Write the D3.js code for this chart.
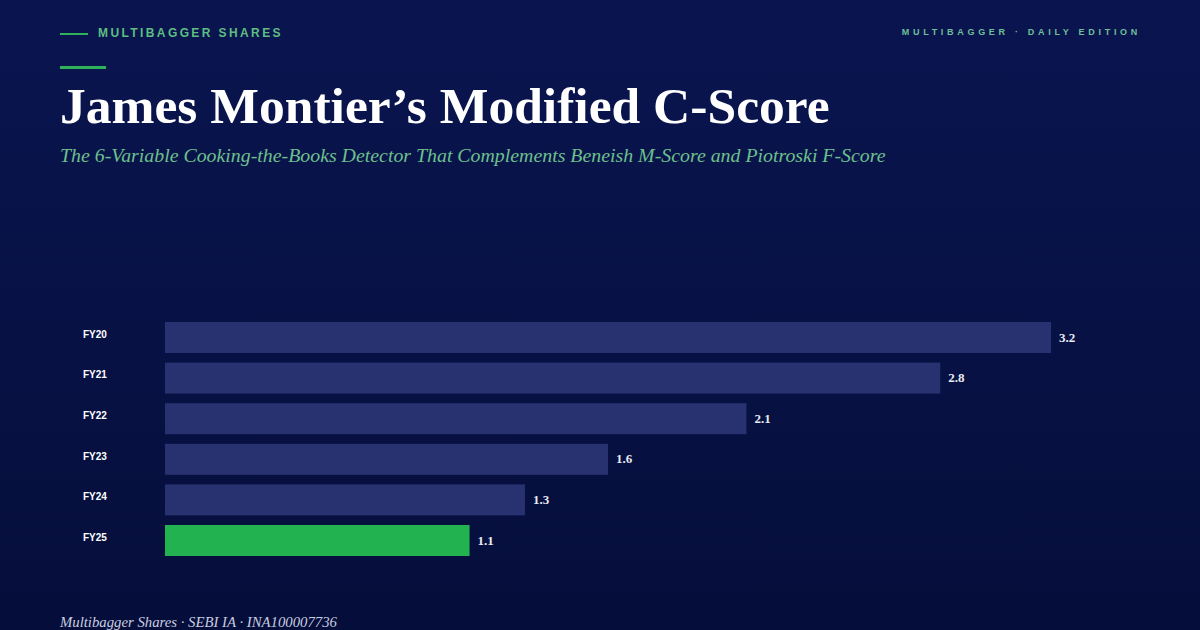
<!DOCTYPE html>
<html><head><meta charset="utf-8">
<script src="https://cdn.jsdelivr.net/npm/d3@7"></script>
<style>
html,body{margin:0;padding:0;background:#071244;}
svg{display:block;}
</style></head>
<body>
<svg id="chart" width="1200" height="630"></svg>
<script>
const categories = ["FY20","FY21","FY22","FY23","FY24","FY25"];
const values = [3.2, 2.8, 2.1, 1.6, 1.3, 1.1];
const highlight = ["FY25"];
const valueLabels = ["3.2","2.8","2.1","1.6","1.3","1.1"];

const svg = d3.select("#chart");
const W = 1200, H = 630;
const defs = svg.append("defs");
const grad = defs.append("linearGradient").attr("id","bg").attr("x1",0).attr("y1",0).attr("x2",0).attr("y2",1);
grad.append("stop").attr("offset","0%").attr("stop-color","#0a1550");
grad.append("stop").attr("offset","100%").attr("stop-color","#050e3a");
svg.append("rect").attr("width",W).attr("height",H).attr("fill","url(#bg)");

const serif = "Georgia, 'Liberation Serif', 'DejaVu Serif', serif";
const sans = "'Liberation Sans', Arial, Helvetica, sans-serif";

function fit(sel, target, size){
  const w = sel.node().getComputedTextLength();
  if (w > 0) sel.attr("font-size", size * target / w);
  return sel;
}

// header
svg.append("line").attr("x1",60).attr("x2",88).attr("y1",34).attr("y2",34).attr("stroke","#2fb35a").attr("stroke-width",2);
svg.append("text").attr("x",98).attr("y",37).text("MULTIBAGGER SHARES")
  .attr("font-family",sans).attr("font-weight","bold").attr("font-size",12).attr("letter-spacing","2.4px").attr("fill","#5dbd82");
svg.append("text").attr("x",1141).attr("y",35).attr("text-anchor","end").text("MULTIBAGGER · DAILY EDITION")
  .attr("font-family",sans).attr("font-weight","bold").attr("font-size",9).attr("letter-spacing","3.7px").attr("fill","#6fbf98");
svg.append("rect").attr("x",60).attr("y",66).attr("width",46).attr("height",3).attr("fill","#2fb35a");

const title = svg.append("text").attr("x",60).attr("y",123).text("James Montier’s Modified C-Score")
  .attr("font-family",serif).attr("font-weight","bold").attr("font-size",44).attr("fill","#ffffff");
fit(title, 770, 44);
const sub = svg.append("text").attr("x",60).attr("y",162).text("The 6-Variable Cooking-the-Books Detector That Complements Beneish M-Score and Piotroski F-Score")
  .attr("font-family",serif).attr("font-style","italic").attr("font-size",17).attr("fill","#6cc08c");
fit(sub, 826, 17);

// chart
const x = d3.scaleLinear().domain([0, 3.2]).range([165, 1051]);
const y = d3.scaleBand().domain(categories).range([317.2, 560.8]).paddingInner(0.236).paddingOuter(0.118);

const g = svg.append("g");
g.selectAll("rect.bar").data(categories).join("rect").attr("class","bar")
  .attr("x", x(0)).attr("y", d => y(d))
  .attr("width", (d,i) => x(values[i]) - x(0)).attr("height", y.bandwidth())
  .attr("fill", d => highlight.includes(d) ? "#22b24f" : "#293270");

const yAxis = d3.axisLeft(y).tickSize(0).tickPadding(0);
const ax = svg.append("g").attr("transform","translate(83,-3)").call(yAxis);
ax.select(".domain").remove();
ax.selectAll("text").attr("text-anchor","start").attr("x",0)
  .attr("font-family",sans).attr("font-weight","bold").attr("font-size",10).attr("fill","#ffffff");

g.selectAll("text.val").data(categories).join("text").attr("class","val")
  .attr("x",(d,i)=> x(values[i]) + 8).attr("y", d => y(d) + y.bandwidth()/2 + 4)
  .text((d,i)=> valueLabels[i])
  .attr("font-family",serif).attr("font-weight","bold").attr("font-size",13).attr("fill","#e8eaf2");

const foot = svg.append("text").attr("x",60).attr("y",627).text("Multibagger Shares · SEBI IA · INA100007736")
  .attr("font-family",serif).attr("font-style","italic").attr("font-size",13).attr("fill","#c9cde0");
fit(foot, 277, 13);
</script>
</body></html>
